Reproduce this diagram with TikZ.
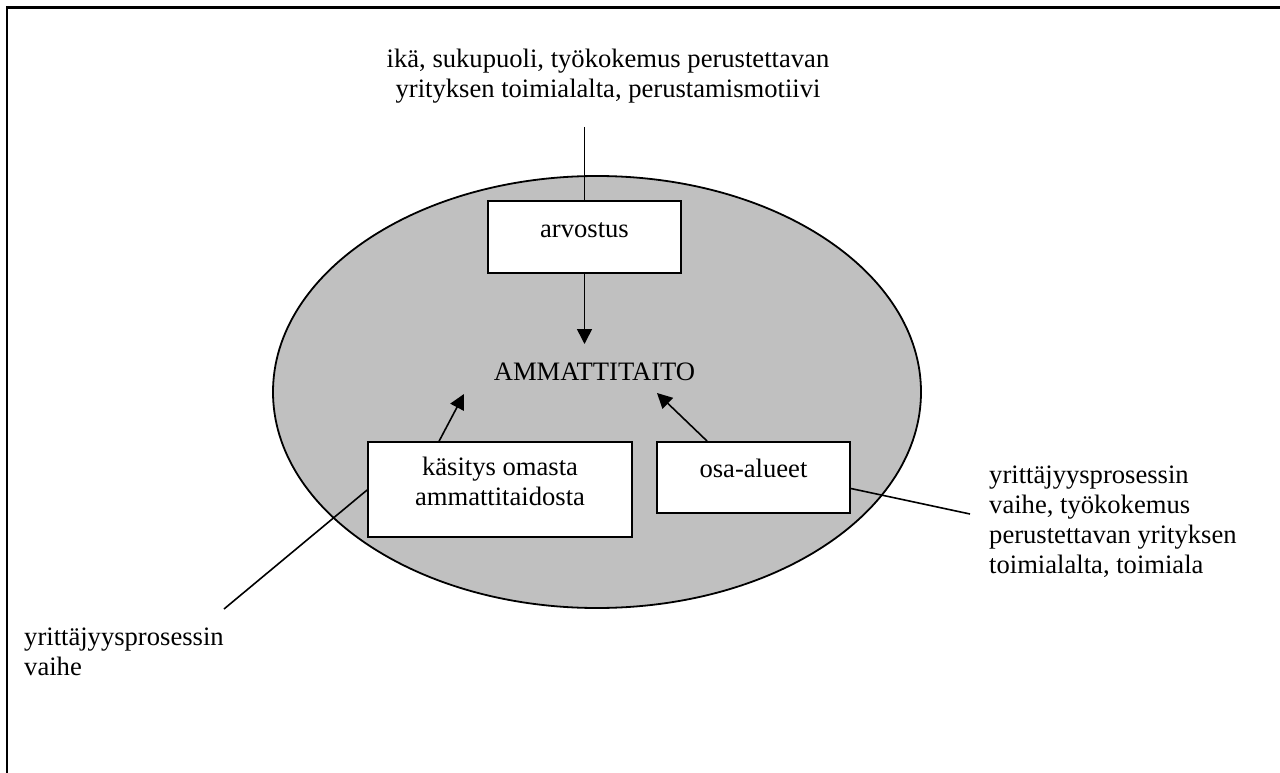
\documentclass[tikz,border=0pt]{standalone}
\usepackage{fontspec}
\setmainfont{Liberation Serif}
\usetikzlibrary{arrows.meta,calc}
\definecolor{ovalgray}{RGB}{192,192,192}
\begin{document}
\begin{tikzpicture}[x=1pt,y=-1pt,
  every node/.style={font=\fontsize{26.6}{30}\selectfont, inner sep=0pt},
  box/.style={draw, fill=white, line width=1.8pt},
  conn/.style={line width=1.6pt},
  arrowconn/.style={conn, -{Triangle[length=15pt,width=15pt]}}]
  \clip (0,0) rectangle (1280,773);
  % outer frame
  \draw[line width=2.6pt] (7,7.5) rectangle (1300,800);
  % grey oval
  \filldraw[fill=ovalgray, line width=1.8pt] (597,392) ellipse [x radius=324, y radius=216];

  % free ends and arrow tips
  \coordinate (factAend) at (584.5,127);
  \coordinate (tipA) at (584.5,344);
  \coordinate (tipL) at (464,394);
  \coordinate (tipR) at (657,393);
  \coordinate (kend) at (224,609);
  \coordinate (rend) at (970,514);

  % boxes
  \node[box, minimum width=193, minimum height=72] (arv) at (584.5,237) {};
  \node[box, minimum width=264, minimum height=95] (kas) at (500,489.5) {};
  \node[box, minimum width=193, minimum height=71] (osa) at (753.5,477.5) {};

  % texts
  \node[anchor=north, align=center] (factA) at (608,49)
    {ikä, sukupuoli, työkokemus perustettavan\\yrityksen toimialalta, perustamismotiivi};
  \node[anchor=base] (arvtext) at (584.5,237) {arvostus};
  \node[anchor=base] (amm) at (594.5,380) {AMMATTITAITO};
  \node[anchor=north, align=center] (kastext) at (500,457) {käsitys omasta\\ammattitaidosta};
  \node[anchor=base] (osatext) at (753.5,477) {osa-alueet};
  \node[anchor=north west, align=left] (factL) at (24,628) {yrittäjyysprosessin\\vaihe};
  \node[anchor=north west, align=left] (factR) at (989,466)
    {yrittäjyysprosessin\\vaihe, työkokemus\\perustettavan yrityksen\\toimialalta, toimiala};

  % connectors
  \draw[conn] (factAend) -- (arv.north);
  \draw[arrowconn] (arv.south) -- (tipA);
  \draw[arrowconn] ($(kas.north west)+(72,0)$) -- (tipL);
  \draw[arrowconn] ($(osa.north west)+(51,0)$) -- (tipR);
  \draw[conn] ($(kas.west)+(0,0.5)$) -- (kend);
  \draw[conn] ($(osa.east)+(0,11)$) -- (rend);
\end{tikzpicture}
\end{document}
